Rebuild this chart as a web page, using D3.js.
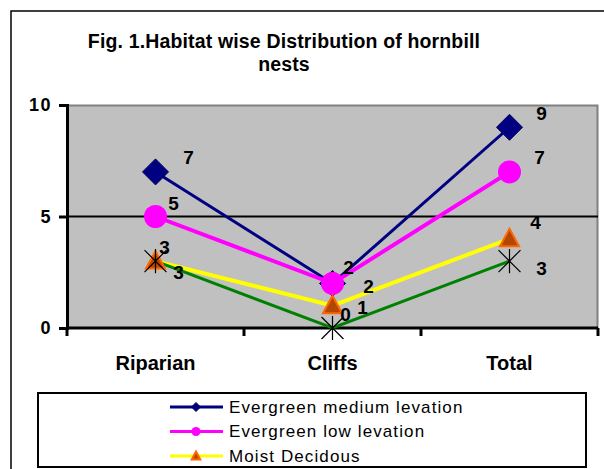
<!DOCTYPE html>
<html>
<head>
<meta charset="utf-8">
<script src="https://cdn.jsdelivr.net/npm/d3@7"></script>
<style>
  body { margin: 0; background: #fff; }
  text { font-family: "Liberation Sans", Arial, sans-serif; }
</style>
</head>
<body>
<div id="chart"></div>
<script>
var svgWidth = 604;
var svgHeight = 469;

// data
var categories = ["Riparian", "Cliffs", "Total"];
var seriesNames = ["Evergreen medium levation", "Evergreen low levation", "Moist Decidous", "Dry Decidous"];
var evergreenMedium = [7, 2, 9];
var evergreenLow = [5, 2, 7];
var moistDecidous = [3, 1, 4];
var dryDecidous = [3, 0, 3];
var yTicks = [0, 5, 10];

// label nudges (px) for each value label
var labelNudge = [
  [[33, -15], [16, -16], [32, -14]],
  [[18, -13], [36, 3], [30, -15]],
  [[9, -14], [30, 2], [26, -16]],
  [[23, 11], [13, -14], [32, 7]]
];

var series = [
  { name: seriesNames[0], values: evergreenMedium, color: "#000080", width: 3, marker: "diamond" },
  { name: seriesNames[1], values: evergreenLow, color: "#FF00FF", width: 4, marker: "circle" },
  { name: seriesNames[2], values: moistDecidous, color: "#FFFF00", width: 4, marker: "triangle" },
  { name: seriesNames[3], values: dryDecidous, color: "#008000", width: 3, marker: "star" }
];

var margin = { top: 105, left: 67 };
var plotW = 531;
var plotH = 223;

var svg = d3.select("#chart").append("svg")
  .attr("width", svgWidth)
  .attr("height", svgHeight);

// outer chart border
svg.append("rect")
  .attr("x", 11).attr("y", 11)
  .attr("width", 620).attr("height", 500)
  .attr("fill", "#fff")
  .attr("stroke", "#000")
  .attr("stroke-width", 1.5);

// title
var title = svg.append("text")
  .attr("text-anchor", "middle")
  .style("font-size", "19.5px")
  .style("font-weight", "bold")
  .style("letter-spacing", "0.15px");
title.append("tspan").attr("x", 284).attr("y", 48).text("Fig. 1.Habitat wise Distribution of hornbill");
title.append("tspan").attr("x", 284).attr("y", 71).text("nests");

var g = svg.append("g")
  .attr("transform", `translate(${margin.left}, ${margin.top})`);

var x = d3.scaleBand().domain(categories).range([0, plotW]);
var y = d3.scaleLinear().domain([0, 10]).range([plotH, 0]);

// plot area
g.append("rect")
  .attr("width", plotW).attr("height", plotH)
  .attr("fill", "#C0C0C0");
g.append("path")
  .attr("d", `M0,0.5H${plotW - 0.5}V${plotH}`)
  .attr("fill", "none")
  .attr("stroke", "#808080")
  .attr("stroke-width", 2);

// gridline at 5
g.append("line")
  .attr("x1", 0).attr("x2", plotW)
  .attr("y1", y(5)).attr("y2", y(5))
  .attr("stroke", "#000").attr("stroke-width", 2);

// y axis
var yAxis = g.append("g")
  .call(d3.axisLeft(y).tickValues(yTicks).tickSize(8).tickPadding(7));
yAxis.select(".domain").attr("stroke-width", 3);
yAxis.selectAll(".tick line").attr("stroke-width", 3);
yAxis.selectAll("text")
  .style("font-size", "18px")
  .style("font-weight", "bold")
  .style("letter-spacing", "1.5px")
  .style("font-family", "Liberation Sans, Arial, sans-serif");

// x axis
var xAxis = g.append("g")
  .attr("transform", `translate(0, ${plotH})`)
  .call(d3.axisBottom(x).tickSize(0).tickPadding(28));
xAxis.select(".domain").attr("stroke-width", 3).attr("d", `M0,0H${plotW}`);
xAxis.selectAll("text")
  .style("font-size", "20px")
  .style("font-weight", "bold")
  .style("font-family", "Liberation Sans, Arial, sans-serif");
xAxis.selectAll(".cat-tick")
  .data(d3.range(categories.length + 1))
  .enter().append("line")
  .attr("x1", i => i * x.step()).attr("x2", i => i * x.step())
  .attr("y1", 0).attr("y2", 8)
  .attr("stroke", "#000").attr("stroke-width", 3);

function cx(i) { return x(categories[i]) + x.bandwidth() / 2; }

function drawMarker(sel, type, size) {
  var s = size;
  if (type === "diamond") {
    sel.append("path")
      .attr("d", `M0,${-s}L${s},0L0,${s}L${-s},0Z`)
      .attr("fill", "#000080").attr("stroke", "#000060").attr("stroke-width", 1);
  } else if (type === "circle") {
    sel.append("path")
      .attr("d", d3.symbol().type(d3.symbolCircle).size(Math.PI * s * s)())
      .attr("fill", "#FF00FF");
  } else if (type === "triangle") {
    sel.append("path")
      .attr("d", `M0,${-s}L${s * 0.95},${s * 0.75}L${-s * 0.95},${s * 0.75}Z`)
      .attr("fill", "#B34700").attr("stroke", "#FF6600").attr("stroke-width", 2);
  } else if (type === "star") {
    sel.append("path")
      .attr("d", `M${-s},${-s}L${s},${s}M${-s},${s}L${s},${-s}M0,${-s * 1.1}V${s * 1.1}`)
      .attr("stroke", "#000").attr("stroke-width", 1.2).attr("fill", "none");
  }
}

var line = d3.line()
  .x((d, i) => cx(i))
  .y(d => y(d));

var markerSize = { diamond: 13, circle: 11.5, triangle: 10, star: 11 };

series.forEach(function(s, si) {
  g.append("path")
    .datum(s.values)
    .attr("d", line)
    .attr("fill", "none")
    .attr("stroke", s.color)
    .attr("stroke-width", s.width);
});

series.forEach(function(s, si) {
  s.values.forEach(function(v, i) {
    var m = g.append("g").attr("transform", `translate(${cx(i)}, ${y(v)})`);
    drawMarker(m, s.marker, markerSize[s.marker]);
  });
});

series.forEach(function(s, si) {
  g.selectAll(null)
    .data(s.values)
    .enter().append("text")
    .attr("x", (d, i) => cx(i) + labelNudge[si][i][0])
    .attr("y", (d, i) => y(d) + labelNudge[si][i][1])
    .attr("dy", "0.35em")
    .attr("text-anchor", "middle")
    .style("font-size", "19px")
    .style("font-weight", "bold")
    .text(d => d);
});

// legend
var legend = svg.append("g");
legend.append("rect")
  .attr("x", 38).attr("y", 393)
  .attr("width", 548).attr("height", 74)
  .attr("fill", "#fff")
  .attr("stroke", "#000")
  .attr("stroke-width", 2);

var legendRows = legend.selectAll(".row")
  .data(series.slice(0, 3))
  .enter().append("g")
  .attr("transform", (d, i) => `translate(0, ${407 + i * 24.5})`);

legendRows.append("line")
  .attr("x1", 170).attr("x2", 223)
  .attr("stroke", d => d.color)
  .attr("stroke-width", 3);

legendRows.each(function(d) {
  var m = d3.select(this).append("g").attr("transform", "translate(196, 0)");
  drawMarker(m, d.marker, 4.5);
});

legendRows.append("text")
  .attr("x", 229).attr("dy", "0.35em")
  .style("font-size", "17px")
  .style("letter-spacing", "1.1px")
  .text(d => d.name);
</script>
</body>
</html>
